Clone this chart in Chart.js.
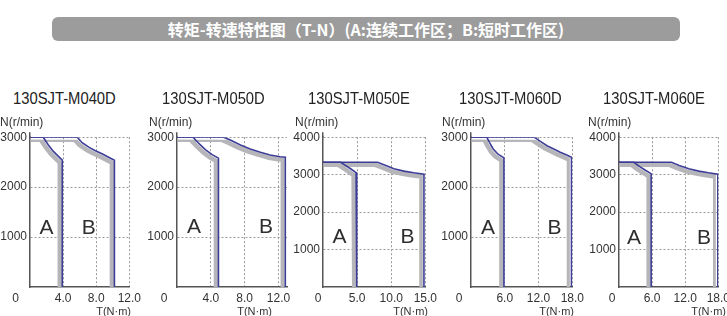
<!DOCTYPE html>
<html><head><meta charset="utf-8">
<script src="https://cdn.jsdelivr.net/npm/chart.js@4/dist/chart.umd.min.js"></script>
<style>
html,body{margin:0;padding:0;background:#fff;}
body{width:727px;height:316px;position:relative;overflow:hidden;font-family:"Liberation Sans",Arial,sans-serif;}
.bar{position:absolute;left:52px;top:17px;width:628px;height:24px;border-radius:6px;background:#9c9c9c;color:#fff;font-weight:bold;font-size:16px;font-family:"Noto Sans CJK SC",sans-serif;text-align:center;line-height:24px;white-space:nowrap;}
.t{position:absolute;white-space:nowrap;color:#333;}
.title{font-size:17px;line-height:17px;color:#222;transform:scaleX(0.87);transform-origin:0 0;}
.ax{font-size:11px;line-height:12px;}
.ny{font-size:12px;line-height:12px;}
.zero{font-size:12px;line-height:12px;width:20px;text-align:center;}
.big{font-size:21px;line-height:21px;width:30px;text-align:center;color:#2e2e2e;}
canvas{position:absolute;}
</style>
</head><body>
<div class="bar">转矩-转速特性图（T-N）(A:连续工作区；B:短时工作区)</div>
<script>
// ---- data ----
const models = ['130SJT-M040D','130SJT-M050D','130SJT-M050E','130SJT-M060D','130SJT-M060E'];
const zoneLabels = ['A','B'];

const m040dTorqueA = [0, 1.6, 2.2, 2.8, 3.4, 3.9, 3.9];
const m040dSpeedA  = [3000, 3000, 2850, 2720, 2620, 2540, 0];
const m040dTorqueB = [0, 5.7, 6.3, 7.1, 7.9, 8.7, 9.5, 10.2, 10.2];
const m040dSpeedB  = [3000, 3000, 2890, 2800, 2730, 2670, 2600, 2540, 0];

const m050dTorqueA = [0, 1.9, 2.55, 3.35, 4.15, 4.9, 4.9];
const m050dSpeedA  = [3000, 3000, 2880, 2750, 2650, 2580, 0];
const m050dTorqueB = [0, 5.5, 6.3, 7.5, 8.65, 9.85, 11.0, 12.2, 12.8, 12.8];
const m050dSpeedB  = [3000, 3000, 2945, 2845, 2765, 2700, 2645, 2610, 2600, 0];

const m050eTorqueA = [0, 2.6, 3.4, 4.1, 4.85, 4.95, 4.95];
const m050eSpeedA  = [3330, 3330, 3235, 3150, 3055, 3015, 0];
const m050eTorqueB = [0, 8.0, 9.2, 10.4, 11.85, 13.3, 14.8, 14.8];
const m050eSpeedB  = [3330, 3330, 3245, 3155, 3095, 3050, 3015, 0];

const m060dTorqueA = [0, 2.8, 3.35, 3.95, 4.8, 5.65, 5.85, 5.85];
const m060dSpeedA  = [3000, 3000, 2880, 2765, 2660, 2600, 2580, 0];
const m060dTorqueB = [0, 11.2, 12.4, 13.5, 14.7, 15.85, 17.0, 17.85, 17.85];
const m060dSpeedB  = [3000, 3000, 2910, 2830, 2765, 2700, 2645, 2600, 0];

const m060eTorqueA = [0, 2.7, 3.75, 4.65, 5.5, 5.83, 5.83];
const m060eSpeedA  = [3330, 3330, 3215, 3130, 3055, 3020, 0];
const m060eTorqueB = [0, 9.5, 10.9, 12.65, 14.45, 16.2, 17.9, 17.9];
const m060eSpeedB  = [3330, 3330, 3245, 3155, 3095, 3050, 3015, 0];

const xTicks12 = ['4.0','8.0','12.0'];
const xTicks15 = ['5.0','10.0','15.0'];
const xTicks18 = ['6.0','12.0','18.0'];
const yTicks3000 = ['1000','2000','3000'];
const yTicks4000 = ['1000','2000','3000','4000'];
const xMaxes = [12, 13, 15, 18, 18];
const yMaxes = [3000, 3000, 4000, 3000, 4000];
const yAxisTitle = 'N(r/min)';
const xAxisTitle = 'T(N·m)';
const originLabel = '0';

const seriesA = [[m040dTorqueA,m040dSpeedA],[m050dTorqueA,m050dSpeedA],[m050eTorqueA,m050eSpeedA],[m060dTorqueA,m060dSpeedA],[m060eTorqueA,m060eSpeedA]];
const seriesB = [[m040dTorqueB,m040dSpeedB],[m050dTorqueB,m050dSpeedB],[m050eTorqueB,m050eSpeedB],[m060dTorqueB,m060dSpeedB],[m060eTorqueB,m060eSpeedB]];
const xTickSets = [xTicks12, xTicks12, xTicks15, xTicks18, xTicks18];
const yTickSets = [yTicks3000, yTicks3000, yTicks4000, yTicks3000, yTicks4000];

// ---- layout (pixels) ----
const L = [
  {left:30, right:131, title:13,  ny:0,     zero:15.5, tr:131, a:[46.5,226.5], b:[88.7,226.5]},
  {left:177,right:287, title:162, ny:149,   zero:164,  tr:272, a:[194,225],   b:[266,225]},
  {left:323,right:427, title:308, ny:295,   zero:318,  tr:428, a:[339.5,235.5], b:[407.5,235.5]},
  {left:471,right:574, title:459, ny:442,   zero:459,  tr:574, a:[488,226],   b:[554.5,226]},
  {left:619,right:720, title:603, ny:588,   zero:612,  tr:726, a:[634,236],   b:[704,236]}
];
const TOP = 137, BOTTOM = 287, YW = 32, PADT = 10, XH = 20, PADR = 14;

function addText(cls, text, x, y, extra){
  const d = document.createElement('div');
  d.className = 't ' + cls; d.textContent = text;
  d.style.left = x + 'px'; d.style.top = y + 'px';
  if (extra) Object.assign(d.style, extra);
  document.body.appendChild(d);
}

const shadowPlugin = {
  id:'shadow',
  beforeDatasetDraw(chart, args){
    const ds = chart.data.datasets[args.index];
    if (!ds.isShadow) return;
    const ctx = chart.ctx, a = chart.chartArea;
    ctx.save();
    ctx.beginPath();
    ctx.rect(a.left + 1, a.top - 3, a.right - a.left + 3, a.bottom - a.top + 3);
    ctx.clip();
    ctx.translate(-2.5, 2.5);
  },
  afterDatasetDraw(chart, args){
    const ds = chart.data.datasets[args.index];
    if (!ds.isShadow) return;
    chart.ctx.restore();
  }
};
const axisExt = {
  id:'axisExt',
  afterDraw(chart){
    const ctx = chart.ctx, a = chart.chartArea;
    const x = Math.round(a.left - 0.75) + 0.75;
    ctx.save(); ctx.strokeStyle = '#555'; ctx.lineWidth = 1.5;
    ctx.beginPath(); ctx.moveTo(x, a.top); ctx.lineTo(x, a.top - 5); ctx.stroke(); ctx.restore();
  }
};

const BLUE = '#3d3d98', GRAY = '#b6b6ba';
const tickFont = {family:'"Liberation Sans", Arial, sans-serif', size:12};

L.forEach((p, i) => {
  const cv = document.createElement('canvas');
  const w = YW + (p.right - p.left) + PADR, h = PADT + (BOTTOM - TOP) + XH;
  cv.width = w; cv.height = h;
  cv.style.left = (p.left - YW) + 'px'; cv.style.top = (TOP - PADT) + 'px';
  cv.style.width = w + 'px'; cv.style.height = h + 'px';
  document.body.appendChild(cv);

  const pts = s => s[0].map((x, k) => ({x, y: s[1][k]}));
  const line = (s, shadow) => ({
    data: pts(s), showLine: true, pointRadius: 0, fill: false, tension: 0,
    borderColor: shadow ? GRAY : BLUE, borderWidth: shadow ? 4.5 : 1.6,
    borderJoinStyle: shadow ? 'round' : 'miter', isShadow: shadow
  });
  const xl = xTickSets[i], yl = yTickSets[i];
  const common = {
    grid: {color:'#9a9a9a', lineWidth:1, drawTicks:false},
    border: {display:true, color:'#555', width:1.5, dash:[2,2]}
  };
  new Chart(cv, {
    type: 'scatter',
    data: {datasets: [line(seriesA[i], false), line(seriesB[i], false), line(seriesA[i], true), line(seriesB[i], true)]},
    options: {
      responsive: false, animation: false, events: [], devicePixelRatio: 1,
      layout: {padding: {left:0, top:PADT, right:PADR, bottom:0}},
      plugins: {legend:{display:false}, tooltip:{enabled:false}},
      scales: {
        x: Object.assign({type:'linear', min:0, max:xMaxes[i],
          afterBuildTicks: s => { s.ticks = xl.map(v => ({value: parseFloat(v)})); },
          afterFit: s => { s.height = XH; },
          ticks: {padding:4, color:'#333', font:tickFont, maxRotation:0, autoSkip:false, callback:(v, k) => xl[k]}
        }, common),
        y: Object.assign({type:'linear', min:0, max:yMaxes[i],
          afterBuildTicks: s => { s.ticks = yl.map(v => ({value: parseFloat(v)})); },
          afterFit: s => { s.width = YW; },
          ticks: {padding:3, color:'#333', font:tickFont, autoSkip:false, callback:(v, k) => yl[k]}
        }, common)
      }
    },
    plugins: [shadowPlugin, axisExt]
  });

  addText('title', models[i], p.title, 89.5);
  addText('ny', yAxisTitle, p.ny, 116);
  addText('ax', xAxisTitle, p.tr - 60, 305, {width:'60px', textAlign:'right'});
  addText('zero', originLabel, p.zero - 10, 291.5);
  addText('big', zoneLabels[0], p.a[0] - 15, p.a[1] - 10.25);
  addText('big', zoneLabels[1], p.b[0] - 15, p.b[1] - 10.25);
});
</script>
</body></html>
